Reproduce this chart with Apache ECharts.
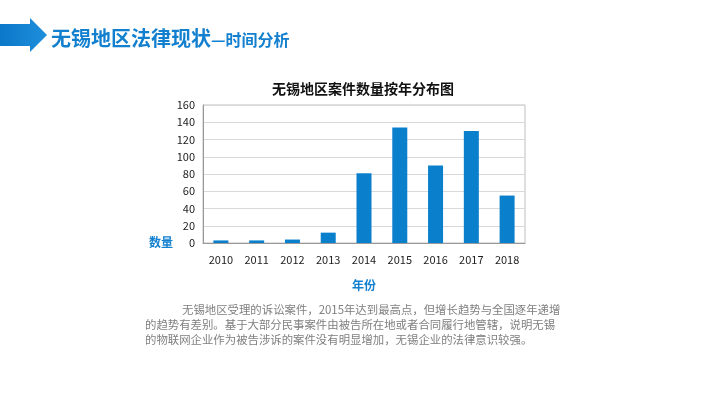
<!DOCTYPE html>
<html>
<head>
<meta charset="utf-8">
<script src="https://cdn.jsdelivr.net/npm/echarts@6/dist/echarts.min.js"></script>
<style>
html, body { margin: 0; padding: 0; background: #fff; }
#main { width: 720px; height: 399px; }
</style>
</head>
<body>
<div id="main"></div>
<script>
var years = ['2010', '2011', '2012', '2013', '2014', '2015', '2016', '2017', '2018'];
var caseCounts = [3, 3, 4, 12, 81, 134, 90, 130, 55];
var yTicks = [0, 20, 40, 60, 80, 100, 120, 140, 160];
var noteLines = [
    '无锡地区受理的诉讼案件，2015年达到最高点，但增长趋势与全国逐年递增',
    '的趋势有差别。基于大部分民事案件由被告所在地或者合同履行地管辖，说明无锡',
    '的物联网企业作为被告涉诉的案件没有明显增加，无锡企业的法律意识较强。'
];

var myChart = echarts.init(document.getElementById('main'));
var font = '"Noto Sans CJK SC", "Noto Sans", sans-serif';
var blue = '#1380cf';

// 第一行首行缩进
var noteGraphics = noteLines.map(function (line, i) {
    return {
        type: 'text',
        left: i === 0 ? 182 : 145,
        top: 304 + i * 15,
        style: {
            text: line,
            fill: '#7f7f7f',
            font: '11.4px ' + font
        }
    };
});

var option = {
    textStyle: { fontFamily: font },
    title: {
        text: '无锡地区案件数量按年分布图',
        left: 358,
        textAlign: 'center',
        top: 77,
        textStyle: { fontSize: 14, fontWeight: 'bold', color: '#111' }
    },
    grid: {
        left: 203,
        right: 195,
        top: 105,
        bottom: 156,
        show: true,
        borderColor: '#bfbfbf',
        borderWidth: 1
    },
    xAxis: {
        type: 'category',
        data: years,
        name: '年份',
        nameLocation: 'middle',
        nameGap: 36,
        nameTextStyle: { color: blue, fontWeight: 'bold', fontSize: 12 },
        axisLine: { lineStyle: { color: '#999' } },
        axisTick: { show: false },
        axisLabel: { color: '#222', fontSize: 11, margin: 11 }
    },
    yAxis: {
        type: 'value',
        min: yTicks[0],
        max: yTicks[yTicks.length - 1],
        interval: 20,
        axisLine: { show: true, lineStyle: { color: '#999' } },
        axisTick: { show: false },
        axisLabel: { color: '#222', fontSize: 11, margin: 8 },
        splitLine: { lineStyle: { color: '#d9d9d9' } }
    },
    series: [{
        type: 'bar',
        data: caseCounts,
        barWidth: 15,
        itemStyle: { color: '#0a80cc' }
    }],
    graphic: [
        {
            type: 'polygon',
            shape: { points: [[0, 24], [30, 24], [30, 18], [47, 35], [30, 52], [30, 46], [0, 46]] },
            style: {
                fill: new echarts.graphic.LinearGradient(0, 0, 1, 0, [
                    { offset: 0, color: '#0b78c8' },
                    { offset: 1, color: '#1e8fdc' }
                ])
            }
        },
        {
            type: 'text',
            left: 51,
            top: 28,
            style: {
                text: '{a|无锡地区法律现状}{b|—时间分析}',
                rich: {
                    a: { fontSize: 20, fontWeight: 'bold', fill: blue, fontFamily: font },
                    b: { fontSize: 16, fontWeight: 'bold', fill: blue, fontFamily: font, padding: [4, 0, 0, 0] }
                }
            }
        },
        {
            type: 'text',
            left: 149,
            top: 236,
            style: { text: '数量', fill: blue, font: 'bold 12px ' + font }
        }
    ].concat(noteGraphics)
};

myChart.setOption(option);
window.addEventListener('resize', function () {
    myChart.resize();
});
</script>
</body>
</html>
